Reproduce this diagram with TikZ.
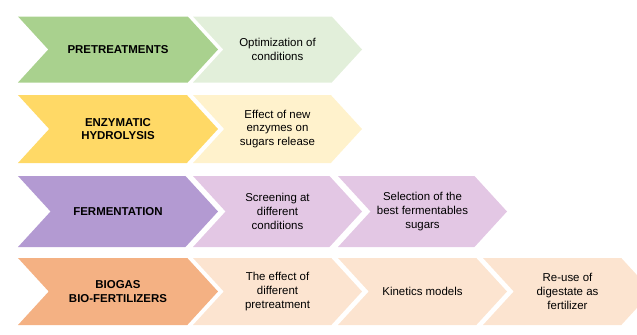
\documentclass[tikz,border=0pt]{standalone}
\usepackage{fontspec}
\setmainfont{Liberation Sans}
\usetikzlibrary{shapes.symbols}

\definecolor{verde}{HTML}{A9D18E}
\definecolor{verdeclaro}{HTML}{E2EFDA}
\definecolor{amarillo}{HTML}{FFD966}
\definecolor{amarilloclaro}{HTML}{FFF2CC}
\definecolor{morado}{HTML}{B39AD2}
\definecolor{moradoclaro}{HTML}{E3C7E4}
\definecolor{naranja}{HTML}{F4B183}
\definecolor{naranjaclaro}{HTML}{FCE4D0}

\tikzset{
  etapa/.style={signal, signal to=east, signal from=west, signal pointer angle=95,
    minimum width=200bp, inner sep=0pt, align=center,
    font=\bfseries\fontsize{11.5}{13.7}\selectfont},
  tarea/.style={signal, signal to=east, signal from=west, signal pointer angle=95,
    minimum width=169bp, inner sep=0pt, align=center,
    font=\fontsize{11.5}{13.7}\selectfont}
}

\begin{document}
\begin{tikzpicture}[x=1bp,y=-1bp]
    % Paso 1: Fija el marco de la figura
    \useasboundingbox (0,0) rectangle (637,334);

    % Paso 2: Pretratamientos
    \node[etapa,fill=verde,minimum height=66bp] (pre) at (118,49.5) {PRETREATMENTS};
    \node[tarea,fill=verdeclaro,minimum height=66bp] (pre1) at (277.5,49.5) {Optimization of\\conditions};

    % Paso 3: Hidrolisis enzimatica
    \node[etapa,fill=amarillo,minimum height=68bp] (hid) at (118,129) {ENZYMATIC\\HYDROLYSIS};
    \node[tarea,fill=amarilloclaro,minimum height=68bp] (hid1) at (277.5,129) {Effect of new\\enzymes on\\sugars release};

    % Paso 4: Fermentacion
    \node[etapa,fill=morado,minimum height=71bp] (fer) at (118,211.5) {FERMENTATION};
    \node[tarea,fill=moradoclaro,minimum height=71bp] (fer1) at (277.5,211.5) {Screening at\\different\\conditions};
    \node[tarea,fill=moradoclaro,minimum height=71bp] (fer2) at (422.5,211.5) {Selection of the\\best fermentables\\sugars};

    % Paso 5: Biogas y biofertilizantes
    \node[etapa,fill=naranja,minimum height=67bp] (bio) at (118,291.5) {BIOGAS\\BIO-FERTILIZERS};
    \node[tarea,fill=naranjaclaro,minimum height=67bp] (bio1) at (277.5,291.5) {The effect of\\different\\pretreatment};
    \node[tarea,fill=naranjaclaro,minimum height=67bp] (bio2) at (422.5,291.5) {Kinetics models};
    \node[tarea,fill=naranjaclaro,minimum height=67bp] (bio3) at (567.5,291.5) {Re-use of\\digestate as\\fertilizer};
\end{tikzpicture}
\end{document}
